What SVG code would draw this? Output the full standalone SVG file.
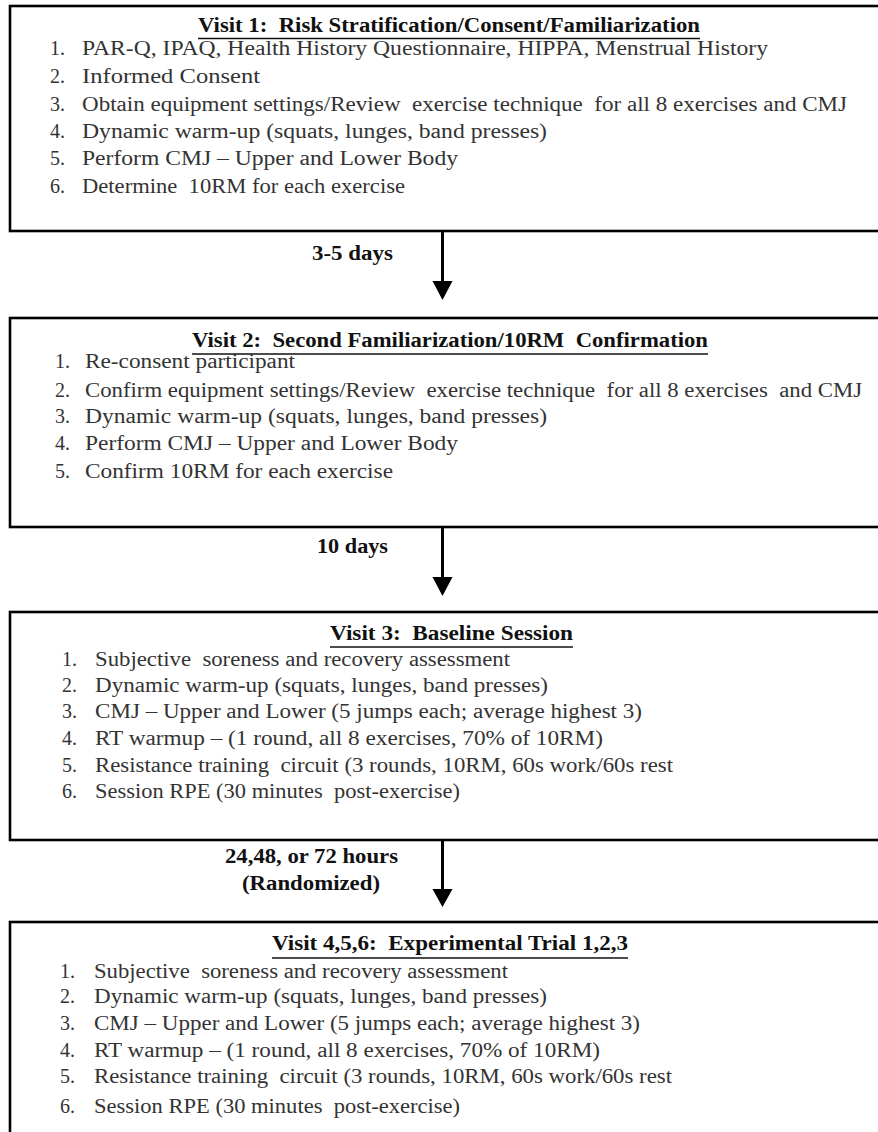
<svg xmlns="http://www.w3.org/2000/svg" width="878" height="1132" viewBox="0 0 878 1132" xml:space="preserve">
<style>
.box{fill:#fff;stroke:#000;stroke-width:2.6}
.t{font-family:"Liberation Serif","Times New Roman",serif;font-size:20px;font-weight:bold;fill:#111;white-space:pre}
.b{font-family:"Liberation Serif","Times New Roman",serif;font-size:20px;fill:#333;white-space:pre}
.u{stroke:#111;stroke-width:1.6}
.lbl{font-family:"Liberation Serif","Times New Roman",serif;font-size:20px;font-weight:bold;fill:#111}
.c{stroke:#000;stroke-width:3;fill:none}
.h{fill:#000}
</style>
<rect width="878" height="1132" fill="#fff"/>
<g id="visit1">
<rect class="box" x="10" y="6" width="900" height="225"/>
<text class="t" x="198" y="32" textLength="502" lengthAdjust="spacingAndGlyphs">Visit 1:  Risk Stratification/Consent/Familiarization</text>
<line class="u" x1="198" y1="38.5" x2="700" y2="38.5"/>
<text class="b" x="50" y="55">1.</text><text class="b" x="82" y="55" textLength="686" lengthAdjust="spacingAndGlyphs">PAR-Q, IPAQ, Health History Questionnaire, HIPPA, Menstrual History</text>
<text class="b" x="50" y="83">2.</text><text class="b" x="82" y="83" textLength="178" lengthAdjust="spacingAndGlyphs">Informed Consent</text>
<text class="b" x="50" y="111">3.</text><text class="b" x="82" y="111" textLength="765" lengthAdjust="spacingAndGlyphs">Obtain equipment settings/Review  exercise technique  for all 8 exercises and CMJ</text>
<text class="b" x="50" y="138">4.</text><text class="b" x="82" y="138" textLength="465" lengthAdjust="spacingAndGlyphs">Dynamic warm-up (squats, lunges, band presses)</text>
<text class="b" x="50" y="165">5.</text><text class="b" x="82" y="165" textLength="376" lengthAdjust="spacingAndGlyphs">Perform CMJ – Upper and Lower Body</text>
<text class="b" x="50" y="193">6.</text><text class="b" x="82" y="193" textLength="323" lengthAdjust="spacingAndGlyphs">Determine  10RM for each exercise</text>
</g>
<g id="visit2">
<rect class="box" x="10" y="318" width="900" height="209"/>
<text class="t" x="192" y="347" textLength="516" lengthAdjust="spacingAndGlyphs">Visit 2:  Second Familiarization/10RM  Confirmation</text>
<line class="u" x1="192" y1="354" x2="708" y2="354"/>
<text class="b" x="55" y="368">1.</text><text class="b" x="85" y="368" textLength="210" lengthAdjust="spacingAndGlyphs">Re-consent participant</text>
<text class="b" x="55" y="397">2.</text><text class="b" x="85" y="397" textLength="777" lengthAdjust="spacingAndGlyphs">Confirm equipment settings/Review  exercise technique  for all 8 exercises  and CMJ</text>
<text class="b" x="55" y="423">3.</text><text class="b" x="85" y="423" textLength="462" lengthAdjust="spacingAndGlyphs">Dynamic warm-up (squats, lunges, band presses)</text>
<text class="b" x="55" y="450">4.</text><text class="b" x="85" y="450" textLength="373" lengthAdjust="spacingAndGlyphs">Perform CMJ – Upper and Lower Body</text>
<text class="b" x="55" y="478">5.</text><text class="b" x="85" y="478" textLength="308" lengthAdjust="spacingAndGlyphs">Confirm 10RM for each exercise</text>
</g>
<g id="visit3">
<rect class="box" x="10" y="612" width="900" height="228"/>
<text class="t" x="330" y="640" textLength="243" lengthAdjust="spacingAndGlyphs">Visit 3:  Baseline Session</text>
<line class="u" x1="330" y1="647" x2="573" y2="647"/>
<text class="b" x="62" y="666">1.</text><text class="b" x="95" y="666" textLength="415" lengthAdjust="spacingAndGlyphs">Subjective  soreness and recovery assessment</text>
<text class="b" x="62" y="692">2.</text><text class="b" x="95" y="692" textLength="453" lengthAdjust="spacingAndGlyphs">Dynamic warm-up (squats, lunges, band presses)</text>
<text class="b" x="62" y="718">3.</text><text class="b" x="95" y="718" textLength="547" lengthAdjust="spacingAndGlyphs">CMJ – Upper and Lower (5 jumps each; average highest 3)</text>
<text class="b" x="62" y="745">4.</text><text class="b" x="95" y="745" textLength="508" lengthAdjust="spacingAndGlyphs">RT warmup – (1 round, all 8 exercises, 70% of 10RM)</text>
<text class="b" x="62" y="772">5.</text><text class="b" x="95" y="772" textLength="578" lengthAdjust="spacingAndGlyphs">Resistance training  circuit (3 rounds, 10RM, 60s work/60s rest</text>
<text class="b" x="62" y="798">6.</text><text class="b" x="95" y="798" textLength="365" lengthAdjust="spacingAndGlyphs">Session RPE (30 minutes  post-exercise)</text>
</g>
<g id="visit4">
<rect class="box" x="10" y="922" width="900" height="240"/>
<text class="t" x="272" y="950" textLength="356" lengthAdjust="spacingAndGlyphs">Visit 4,5,6:  Experimental Trial 1,2,3</text>
<line class="u" x1="272" y1="958" x2="628" y2="958"/>
<text class="b" x="60" y="978">1.</text><text class="b" x="94" y="978" textLength="414" lengthAdjust="spacingAndGlyphs">Subjective  soreness and recovery assessment</text>
<text class="b" x="60" y="1003">2.</text><text class="b" x="94" y="1003" textLength="453" lengthAdjust="spacingAndGlyphs">Dynamic warm-up (squats, lunges, band presses)</text>
<text class="b" x="60" y="1030">3.</text><text class="b" x="94" y="1030" textLength="546" lengthAdjust="spacingAndGlyphs">CMJ – Upper and Lower (5 jumps each; average highest 3)</text>
<text class="b" x="60" y="1057">4.</text><text class="b" x="94" y="1057" textLength="506" lengthAdjust="spacingAndGlyphs">RT warmup – (1 round, all 8 exercises, 70% of 10RM)</text>
<text class="b" x="60" y="1083">5.</text><text class="b" x="94" y="1083" textLength="578" lengthAdjust="spacingAndGlyphs">Resistance training  circuit (3 rounds, 10RM, 60s work/60s rest</text>
<text class="b" x="60" y="1113">6.</text><text class="b" x="94" y="1113" textLength="366" lengthAdjust="spacingAndGlyphs">Session RPE (30 minutes  post-exercise)</text>
</g>
<g id="connectors">
<line class="c" x1="442.5" y1="232" x2="442.5" y2="283"/>
<polygon class="h" points="432.5,281 452.5,281 442.5,300"/>
<text class="lbl" x="312" y="260" textLength="81" lengthAdjust="spacingAndGlyphs">3-5 days</text>
<line class="c" x1="442.5" y1="528" x2="442.5" y2="579"/>
<polygon class="h" points="432.5,577 452.5,577 442.5,596"/>
<text class="lbl" x="317" y="553" textLength="71" lengthAdjust="spacingAndGlyphs">10 days</text>
<line class="c" x1="442.5" y1="841" x2="442.5" y2="891"/>
<polygon class="h" points="432.5,889 452.5,889 442.5,907"/>
<text class="lbl" x="225" y="863" textLength="173" lengthAdjust="spacingAndGlyphs">24,48, or 72 hours</text>
<text class="lbl" x="242" y="890" textLength="138" lengthAdjust="spacingAndGlyphs">(Randomized)</text>
</g>
</svg>
